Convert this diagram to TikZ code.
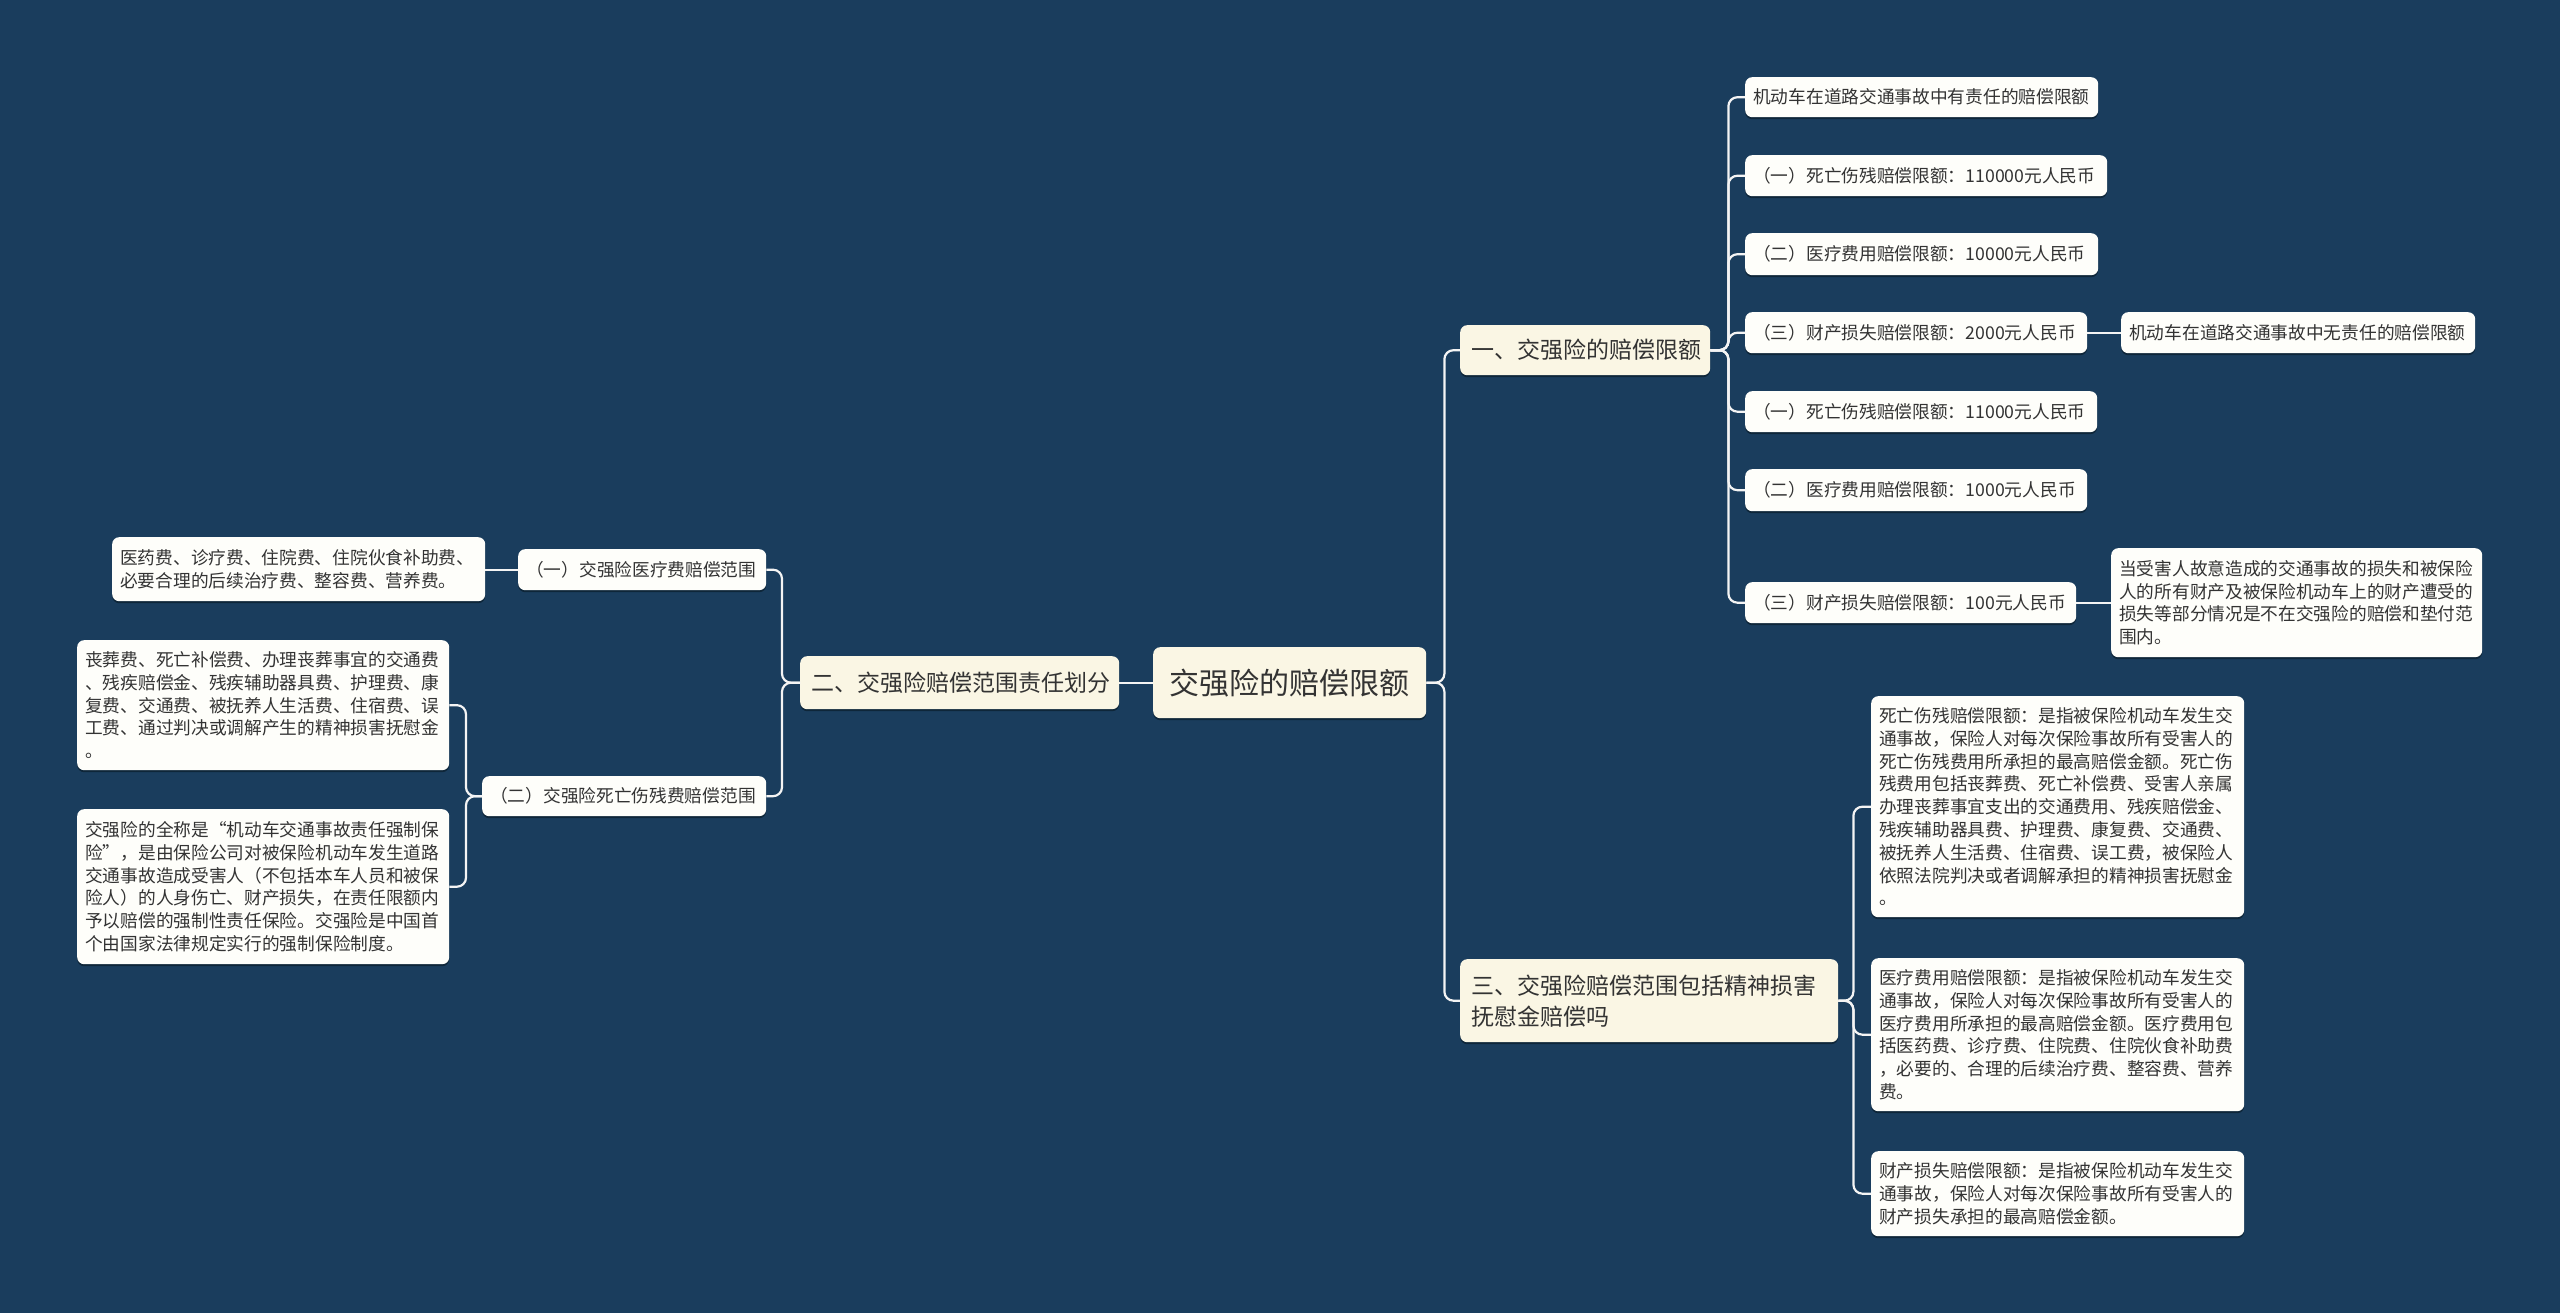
\documentclass[tikz,border=0pt]{standalone}
\usepackage{fontspec}
\newfontfamily\cjk{Noto Sans CJK SC}
\definecolor{bg}{HTML}{1A3D5D}
\definecolor{lvlfill}{HTML}{FAF6E4}
\definecolor{leaffill}{HTML}{FEFEFA}
\definecolor{txt}{HTML}{333333}
\definecolor{linec}{HTML}{F4F4F4}
\definecolor{shade}{HTML}{0E2639}
\tikzset{
  basebox/.style={rounded corners=7pt, anchor=north west, inner ysep=0pt, text=txt, align=left,
    preaction={fill=shade, transform canvas={yshift=-2pt}}},
  leaf/.style={basebox, fill=leaffill, inner xsep=8pt, font=\cjk\fontsize{17.7pt}{22.8pt}\selectfont},
  lvl/.style={basebox, fill=lvlfill, inner xsep=11pt, font=\cjk\fontsize{23pt}{31pt}\selectfont},
  rootbox/.style={basebox, fill=lvlfill, inner xsep=12pt, align=center, font=\cjk\fontsize{30pt}{36pt}\selectfont},
  conn/.style={draw=linec, line width=2.2pt, rounded corners=9pt}
}
\begin{document}
\begin{tikzpicture}[x=1pt,y=-1pt]
\fill[bg] (0,0) rectangle (2560,1313);
\useasboundingbox (0,0) rectangle (2560,1313);

% root and level 1
\node[rootbox, minimum width=273pt, minimum height=71pt, text width=249pt] (root) at (1153,647) {交强险的赔偿限额};
\node[lvl, minimum width=250pt, minimum height=50pt, text width=228pt] (n1) at (1460,325) {一、交强险的赔偿限额};
\node[lvl, minimum width=319pt, minimum height=53pt, text width=297pt] (n2) at (800,656) {二、交强险赔偿范围责任划分};
\node[lvl, minimum width=378pt, minimum height=83pt, text width=356pt] (n3) at (1460,959) {三、交强险赔偿范围包括精神损害\\抚慰金赔偿吗};

% right leaves of n1
\node[leaf, minimum width=353pt, minimum height=40pt, text width=337pt] (a1) at (1745,77) {机动车在道路交通事故中有责任的赔偿限额};
\node[leaf, minimum width=362pt, minimum height=41pt, text width=346pt] (a2) at (1745,155) {（一）死亡伤残赔偿限额：110000元人民币};
\node[leaf, minimum width=353pt, minimum height=42pt, text width=337pt] (a3) at (1745,233) {（二）医疗费用赔偿限额：10000元人民币};
\node[leaf, minimum width=342pt, minimum height=41pt, text width=326pt] (a4) at (1745,312) {（三）财产损失赔偿限额：2000元人民币};
\node[leaf, minimum width=354pt, minimum height=41pt, text width=338pt] (a4c) at (2121,312) {机动车在道路交通事故中无责任的赔偿限额};
\node[leaf, minimum width=352pt, minimum height=41pt, text width=336pt] (a5) at (1745,391) {（一）死亡伤残赔偿限额：11000元人民币};
\node[leaf, minimum width=342pt, minimum height=42pt, text width=326pt] (a6) at (1745,469) {（二）医疗费用赔偿限额：1000元人民币};
\node[leaf, minimum width=331pt, minimum height=41pt, text width=315pt] (a7) at (1745,582) {（三）财产损失赔偿限额：100元人民币};
\node[leaf, minimum width=371pt, minimum height=109pt, text width=355pt] (a7c) at (2111,548) {当受害人故意造成的交通事故的损失和被保险\\人的所有财产及被保险机动车上的财产遭受的\\损失等部分情况是不在交强险的赔偿和垫付范\\围内。};

% leaves of n3
\node[leaf, minimum width=373pt, minimum height=221pt, text width=357pt] (b1) at (1871,696) {死亡伤残赔偿限额：是指被保险机动车发生交\\通事故，保险人对每次保险事故所有受害人的\\死亡伤残费用所承担的最高赔偿金额。死亡伤\\残费用包括丧葬费、死亡补偿费、受害人亲属\\办理丧葬事宜支出的交通费用、残疾赔偿金、\\残疾辅助器具费、护理费、康复费、交通费、\\被抚养人生活费、住宿费、误工费，被保险人\\依照法院判决或者调解承担的精神损害抚慰金\\。};
\node[leaf, minimum width=373pt, minimum height=153pt, text width=357pt] (b2) at (1871,958) {医疗费用赔偿限额：是指被保险机动车发生交\\通事故，保险人对每次保险事故所有受害人的\\医疗费用所承担的最高赔偿金额。医疗费用包\\括医药费、诊疗费、住院费、住院伙食补助费\\，必要的、合理的后续治疗费、整容费、营养\\费。};
\node[leaf, minimum width=373pt, minimum height=85pt, text width=357pt] (b3) at (1871,1151) {财产损失赔偿限额：是指被保险机动车发生交\\通事故，保险人对每次保险事故所有受害人的\\财产损失承担的最高赔偿金额。};

% left side
\node[leaf, minimum width=248pt, minimum height=41pt, text width=232pt] (c1) at (518,549) {（一）交强险医疗费赔偿范围};
\node[leaf, minimum width=284pt, minimum height=40pt, text width=268pt] (c2) at (482,776) {（二）交强险死亡伤残费赔偿范围};
\node[leaf, minimum width=373pt, minimum height=64pt, text width=357pt] (d1) at (112,537) {医药费、诊疗费、住院费、住院伙食补助费、\\必要合理的后续治疗费、整容费、营养费。};
\node[leaf, minimum width=372pt, minimum height=130pt, text width=356pt] (d2) at (77,640) {丧葬费、死亡补偿费、办理丧葬事宜的交通费\\、残疾赔偿金、残疾辅助器具费、护理费、康\\复费、交通费、被抚养人生活费、住宿费、误\\工费、通过判决或调解产生的精神损害抚慰金\\。};
\node[leaf, minimum width=372pt, minimum height=155pt, text width=356pt] (d3) at (77,809) {交强险的全称是“机动车交通事故责任强制保\\险”，是由保险公司对被保险机动车发生道路\\交通事故造成受害人（不包括本车人员和被保\\险人）的人身伤亡、财产损失，在责任限额内\\予以赔偿的强制性责任保险。交强险是中国首\\个由国家法律规定实行的强制保险制度。};

% connectors
\draw[conn] (root.east) -- ++(18,0) |- (n1.west);
\draw[conn] (root.east) -- ++(18,0) |- (n3.west);
\draw[conn] (root.west) -- (n2.east);
\foreach \t in {a1,a2,a3,a4,a5,a6,a7}{
  \draw[conn] (n1.east) -- ++(18,0) |- (\t.west);
}
\draw[conn] (a4.east) -- (a4c.west);
\draw[conn] (a7.east) -- (a7.east -| a7c.west);
\foreach \t in {b1,b2,b3}{
  \draw[conn] (n3.east) -- ++(15,0) |- (\t.west);
}
\draw[conn] (n2.west) -- ++(-18,0) |- (c1.east);
\draw[conn] (n2.west) -- ++(-18,0) |- (c2.east);
\draw[conn] (c1.west) -- (c1.west -| d1.east);
\draw[conn] (c2.west) -- ++(-16,0) |- (d2.east);
\draw[conn] (c2.west) -- ++(-16,0) |- (d3.east);
\end{tikzpicture}
\end{document}
